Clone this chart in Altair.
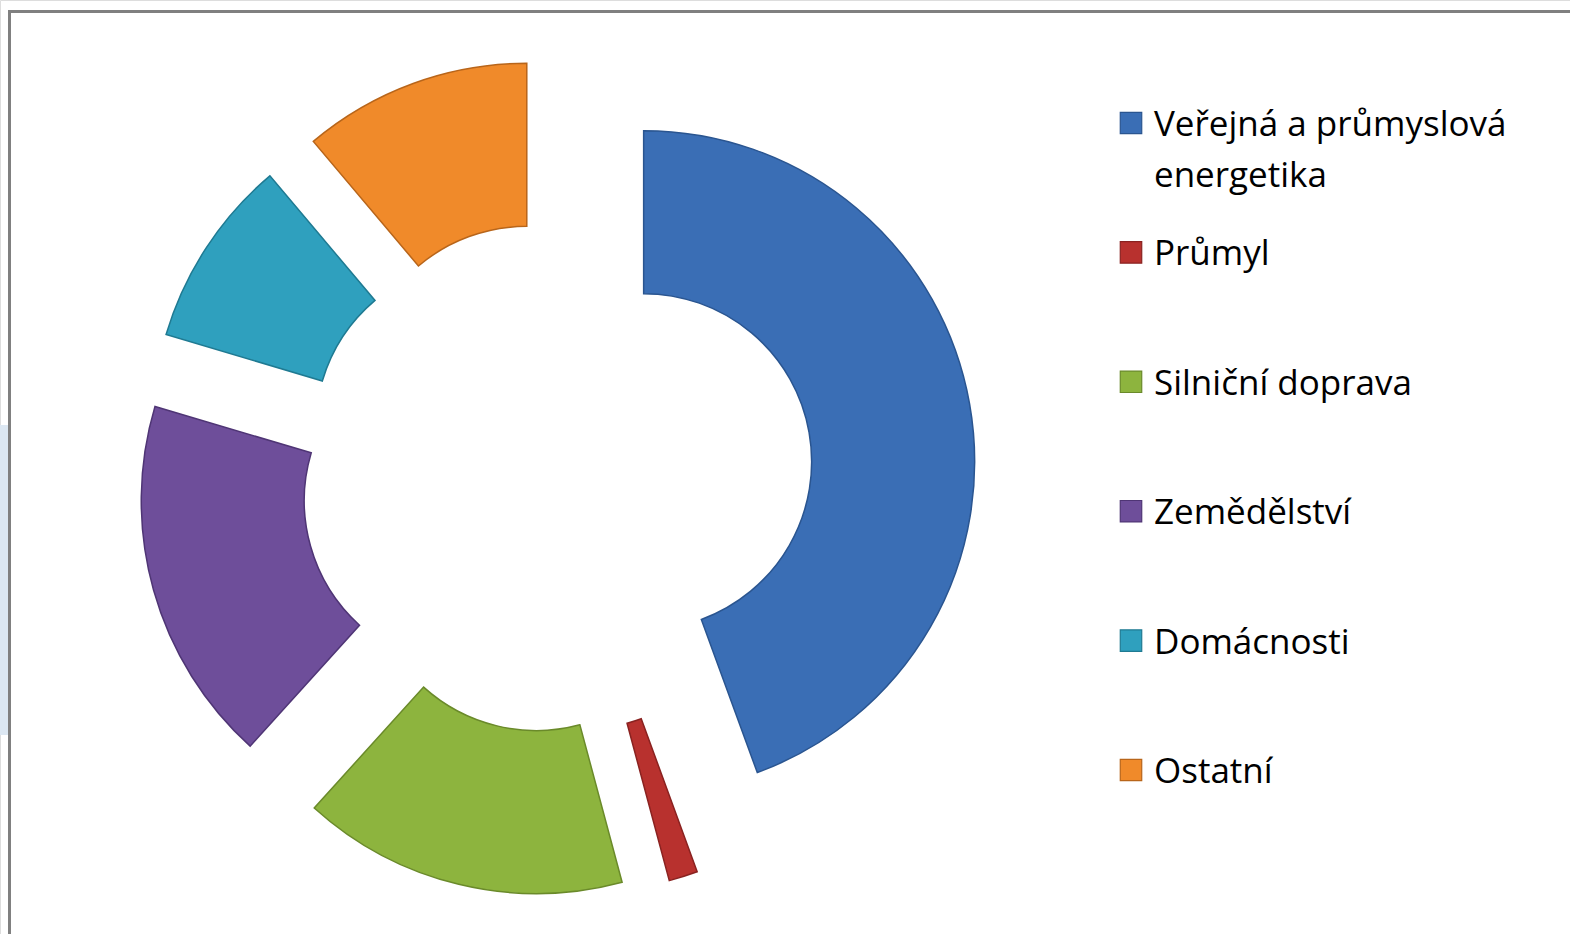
import math
import altair as alt
import pandas as pd

# ---- data ----
categories = ["Veřejná a průmyslová energetika", "Průmyl", "Silniční doprava",
              "Zemědělství", "Domácnosti", "Ostatní"]
values = [44.2, 1.4, 15.8, 17.8, 9.2, 11.1]
colors = ["#3A6EB5", "#B8312E", "#8DB43E", "#6E4E9A", "#2FA0BE", "#F08A2A"]
strokes = ["#2A5590", "#8A2220", "#6A8A2A", "#4F3575", "#1F7A92", "#B8651A"]
legend_labels = ["Veřejná a průmyslová\nenergetika", "Průmyl", "Silniční doprava",
                 "Zemědělství", "Domácnosti", "Ostatní"]

# ---- layout constants ----
W, H = 1570, 934
CX, CY = 557, 477
R_OUT, R_IN = 331, 168
EXPLODE = 88

df = pd.DataFrame({"cat": categories, "value": values, "order": range(len(categories))})
leg = pd.DataFrame({"cat": categories, "label": legend_labels, "idx": range(len(categories))})

color_scale = alt.Scale(domain=categories, range=colors)
stroke_scale = alt.Scale(domain=categories, range=strokes)

arcs = (
    alt.Chart(df)
    .transform_window(cum="sum(value)", sort=[alt.SortField("order")],
                      frame=[None, 0])
    .transform_joinaggregate(total="sum(value)")
    .transform_calculate(
        t0="(datum.cum - datum.value) / datum.total * 2 * PI",
        t1="datum.cum / datum.total * 2 * PI",
    )
    .transform_calculate(mid="(datum.t0 + datum.t1) / 2")
    .transform_calculate(
        cx=f"{CX} + {EXPLODE} * sin(datum.mid)",
        cy=f"{CY} - {EXPLODE} * cos(datum.mid)",
    )
    .mark_arc(innerRadius=R_IN, outerRadius=R_OUT, strokeWidth=1.5)
    .encode(
        theta=alt.Theta("t0:Q", scale=None),
        theta2="t1:Q",
        x=alt.X("cx:Q", scale=None),
        y=alt.Y("cy:Q", scale=None),
        color=alt.Color("cat:N", scale=color_scale, legend=None),
        stroke=alt.Stroke("cat:N", scale=stroke_scale, legend=None),
    )
)

leg_base = alt.Chart(leg).transform_calculate(ly="123 + 129.4 * datum.idx")

leg_sym = leg_base.mark_square(size=460, strokeWidth=1.2, opacity=1).encode(
    x=alt.value(1131),
    y=alt.Y("ly:Q", scale=None),
    color=alt.Color("cat:N", scale=color_scale, legend=None),
    stroke=alt.Stroke("cat:N", scale=stroke_scale, legend=None),
)

leg_txt = leg_base.transform_calculate(ty="datum.ly + 13").mark_text(
    align="left", baseline="alphabetic", font="Open Sans", fontSize=35,
    lineBreak="\n", lineHeight=51, color="#000000",
).encode(
    x=alt.value(1154),
    y=alt.Y("ty:Q", scale=None),
    text="label:N",
)

strip = alt.Chart(pd.DataFrame({"a": [0]})).mark_rect(color="#DCE7F2").encode(
    x=alt.value(0), x2=alt.value(8), y=alt.value(425), y2=alt.value(735)
)

frame = alt.Chart(pd.DataFrame({"a": [0]})).mark_rect(
    fill=None, stroke="#808080", strokeWidth=3
).encode(
    x=alt.value(9.5), x2=alt.value(1700), y=alt.value(11.5), y2=alt.value(1100)
)

chart = (
    alt.layer(strip, frame, arcs, leg_sym, leg_txt)
    .properties(width=W, height=H, padding=0, autosize=alt.AutoSizeParams(type="none"))
    .configure_view(stroke=None)
    .configure(background="#FFFFFF")
)

chart.save("out.html", embed_options={"renderer": "svg", "actions": False})
